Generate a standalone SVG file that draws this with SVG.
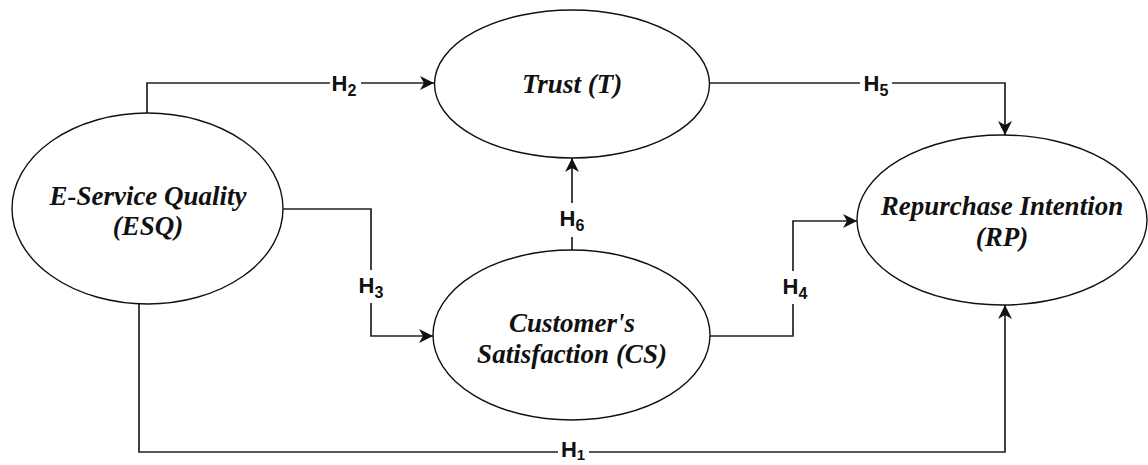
<svg xmlns="http://www.w3.org/2000/svg" width="1148" height="465" viewBox="0 0 1148 465">
<style>
.node{fill:#fff;stroke:#111;stroke-width:1.4}
.t{font-family:"Liberation Serif","Times New Roman",serif;font-size:27px;font-weight:bold;font-style:italic;fill:#111;text-anchor:middle}
.e{fill:none;stroke:#222;stroke-width:1.7}
.lb{font-family:"Liberation Sans",Arial,sans-serif;font-size:22px;font-weight:bold;fill:#111;text-anchor:middle}
.bg{fill:#fff}
</style>
<defs>
<marker id="ah" markerUnits="userSpaceOnUse" markerWidth="16" markerHeight="16" refX="14" refY="7" orient="auto">
<path d="M0,0 L14,7 L0,14 L4,7 z" fill="#111"/>
</marker>
</defs>
<rect width="1148" height="465" fill="#fff"/>
<g id="connectors">
<path class="e" d="M147,113 V83 H434" marker-end="url(#ah)"/>
<path class="e" d="M283,209 H371 V336 H433" marker-end="url(#ah)"/>
<path class="e" d="M572,250 V158" marker-end="url(#ah)"/>
<path class="e" d="M710,83 H1005 V135" marker-end="url(#ah)"/>
<path class="e" d="M710,336 H793 V221 H857" marker-end="url(#ah)"/>
<path class="e" d="M139,304 V452 H1005 V305" marker-end="url(#ah)"/>
<g id="labels">
<rect class="bg" x="330" y="70" width="31" height="26"/>
<text class="lb" x="344" y="91">H<tspan font-size="16" dy="5">2</tspan></text>
<rect class="bg" x="355" y="270" width="33" height="33"/>
<text class="lb" x="371" y="293">H<tspan font-size="16" dy="5">3</tspan></text>
<rect class="bg" x="555" y="203" width="33" height="34"/>
<text class="lb" x="572" y="226">H<tspan font-size="16" dy="5">6</tspan></text>
<rect class="bg" x="860" y="70" width="32" height="26"/>
<text class="lb" x="876" y="91">H<tspan font-size="16" dy="5">5</tspan></text>
<rect class="bg" x="777" y="271" width="34" height="33"/>
<text class="lb" x="795" y="294">H<tspan font-size="16" dy="5">4</tspan></text>
<rect class="bg" x="558" y="440" width="31" height="24"/>
<text class="lb" x="573" y="457">H<tspan font-size="15" dy="3">1</tspan></text>
</g>
</g>
<g id="esq">
<ellipse class="node" cx="147.5" cy="208.5" rx="135.5" ry="95.5"/>
<text class="t" x="148" y="205">E-Service Quality</text>
<text class="t" x="148" y="235">(ESQ)</text>
</g>
<g id="trust">
<ellipse class="node" cx="572" cy="84" rx="137.5" ry="74"/>
<text class="t" x="572" y="93">Trust (T)</text>
</g>
<g id="cs">
<ellipse class="node" cx="571.5" cy="335" rx="138.5" ry="85"/>
<text class="t" x="572" y="332">Customer's</text>
<text class="t" x="572" y="363">Satisfaction (CS)</text>
</g>
<g id="rp">
<ellipse class="node" cx="1002" cy="220" rx="145" ry="85"/>
<text class="t" x="1002" y="215">Repurchase Intention</text>
<text class="t" x="1002" y="246">(RP)</text>
</g>
</svg>
